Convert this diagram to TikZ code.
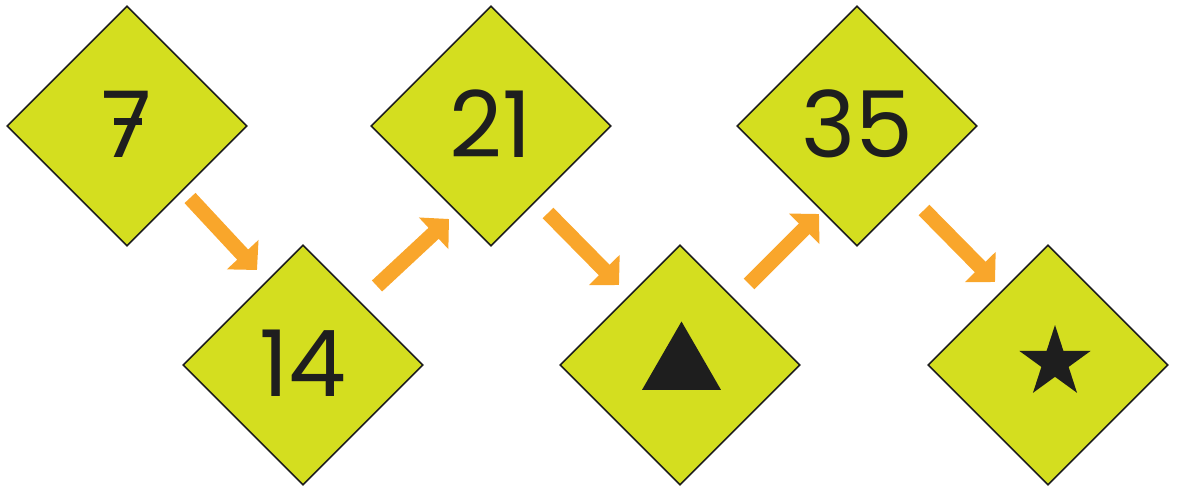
\documentclass[tikz,border=0pt]{standalone}
\usepackage{fontspec}
\setmainfont{Poppins}
\usetikzlibrary{shapes.geometric,arrows.meta}
\definecolor{dfill}{HTML}{D4DE1F}
\definecolor{arr}{HTML}{F9A62B}
\definecolor{ink}{HTML}{1E1E1E}
\tikzset{
  sign/.style={shape=diamond,aspect=1,draw=ink,line width=1.6pt,fill=dfill,
    minimum width=240pt,minimum height=240pt,inner sep=0pt,
    font=\fontsize{92}{92}\selectfont,text=ink},
  tri/.style={regular polygon,regular polygon sides=3,fill=ink,minimum size=91pt,inner sep=0pt,outer sep=0pt},
  starsym/.style={star,star points=5,star point ratio=2.618,fill=ink,minimum size=75pt,inner sep=0pt,outer sep=0pt},
  flow/.style={draw=arr,line width=15pt,-{Triangle[width=42pt,length=21pt]}}
}
\begin{document}
\begin{tikzpicture}[x=1pt,y=-1pt]
\useasboundingbox (0,0) rectangle (1181,495);
\node[sign] (n7) at (127,126) {\raisebox{4pt}{7}};
\node[sign] (n14) at (303,365) {\raisebox{4pt}{14}};
\node[sign] (n21) at (491,126) {\raisebox{4pt}{21}};
\node[sign] (ntri) at (680,365) {};
\node[sign] (n35) at (857,126) {\raisebox{4pt}{35}};
\node[sign] (nstar) at (1048,365) {};
\node[tri] (tri) at (681.5,367) {};
\node[starsym] (st) at (1055,362.5) {};
\coordinate (c7a) at (114,121); \coordinate (c7b) at (142,121);
\draw[ink,line width=7pt] (c7a) -- (c7b);
\coordinate (a1s) at (190,198); \coordinate (a1e) at (257,270);
\coordinate (a2s) at (377,286); \coordinate (a2e) at (449,219);
\coordinate (a3s) at (548,213); \coordinate (a3e) at (619,285);
\coordinate (a4s) at (749,284); \coordinate (a4e) at (819,214);
\coordinate (a5s) at (924,210); \coordinate (a5e) at (995,282);
\draw[flow] (a1s) -- (a1e);
\draw[flow] (a2s) -- (a2e);
\draw[flow] (a3s) -- (a3e);
\draw[flow] (a4s) -- (a4e);
\draw[flow] (a5s) -- (a5e);
\end{tikzpicture}
\end{document}
